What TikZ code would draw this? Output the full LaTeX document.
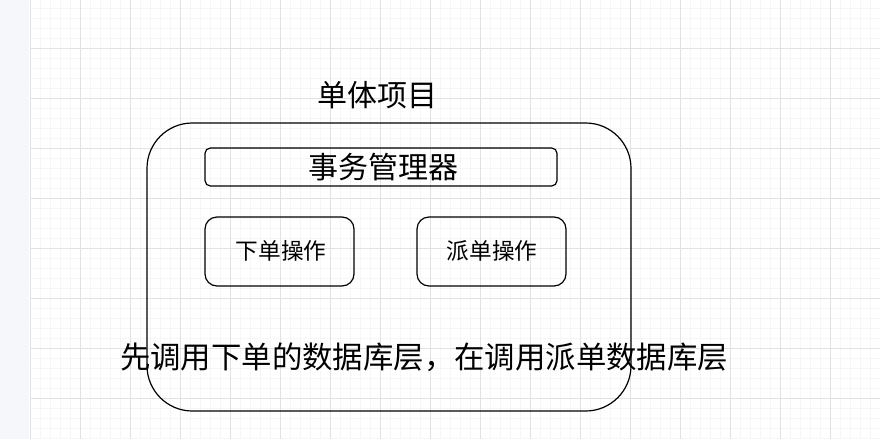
\documentclass[tikz,border=0pt]{standalone}
\usepackage{fontspec}
\newfontfamily\cjk{Noto Sans CJK SC}
\definecolor{strip}{HTML}{F5F7FB}
\definecolor{minorgrid}{HTML}{F6F6F6}
\definecolor{majorgrid}{HTML}{E2E2E2}
\tikzset{
  box/.style={draw=black, line width=0.9pt, rounded corners=#1},
  lbl/.style={font=\cjk\fontsize{#1}{#1}\selectfont, inner sep=0pt},
}
\begin{document}
\begin{tikzpicture}[x=0.75pt,y=-0.75pt]
\useasboundingbox (0,0) rectangle (880,439);
\fill[white] (0,0) rectangle (880,439);
\fill[strip] (0,0) rectangle (29,439);
% minor grid
\foreach \x in {40,50,...,880} \draw[minorgrid, line width=0.6pt] (\x,0) -- (\x,439);
\foreach \y in {8,18,...,439} \draw[minorgrid, line width=0.6pt] (30,\y) -- (880,\y);
% major grid
\foreach \x in {30,80,...,880} \draw[majorgrid, line width=0.75pt] (\x,0) -- (\x,439);
\foreach \y in {48,98,...,439} \draw[majorgrid, line width=0.75pt] (30,\y) -- (880,\y);

\node[lbl=22.5pt] (title) at (377,95) {单体项目};
\draw[box=34pt] (147,123) rectangle (631,411);
\node[box=4pt, minimum width=264pt, minimum height=28.5pt, inner sep=0pt] (tx) at (381,167) {};
\node[lbl=22.5pt] (txl) at (383,167) {事务管理器};
\node[box=9pt, minimum width=111.75pt, minimum height=51.75pt] (xd) at (279.5,251.5) {};
\node[lbl=17pt] (xdl) at (281,251) {下单操作};
\node[box=9pt, minimum width=111.75pt, minimum height=51.75pt] (pd) at (491.5,251.5) {};
\node[lbl=17pt] (pdl) at (492,251) {派单操作};
\node[lbl=22.8pt] (note) at (424,357) {先调用下单的数据库层，在调用派单数据库层};
\end{tikzpicture}
\end{document}
